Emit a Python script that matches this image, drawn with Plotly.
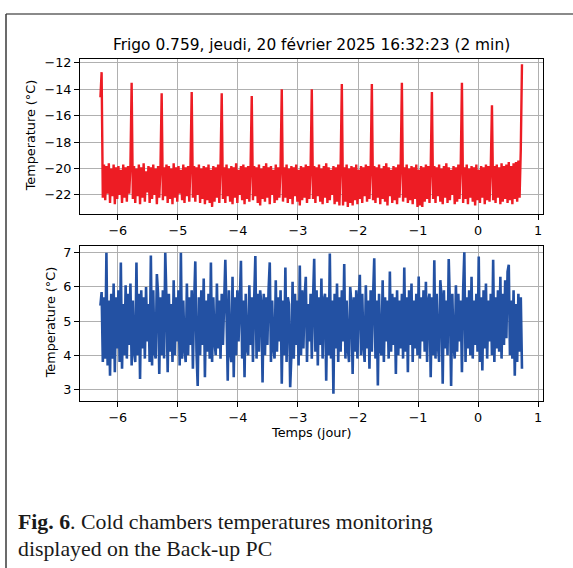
import numpy as np
import plotly.graph_objs as go

# sampling grid of the monitoring record (days relative to now)
T_START = -6.29
T_STEP = 0.02

# Frigo (freezer) temperature, deg C
frigo_temp = [
    -14.6, -12.7,
    -22.2, -19.7, -22.4, -19.8, -21.9, -19.6, -22.6, -20.0, -22.1, -19.7, -22.7, -19.9,
    -22.3, -19.8, -22.0, -20.1, -22.6, -19.7, -22.2, -19.9, -22.5, -19.8, -21.9, -19.7, -13.5,
    -22.3, -19.8, -22.6, -20.0, -22.1, -19.7, -22.7, -19.9, -22.2, -19.6, -22.5, -20.2,
    -21.8, -19.8, -22.6, -19.9, -22.3, -19.7, -22.0, -20.0, -22.7, -19.8, -22.2, -19.9, -14.3,
    -22.4, -19.9, -22.1, -19.7, -22.6, -19.8, -22.3, -20.0, -22.7, -19.6, -22.2, -19.9,
    -22.5, -19.8, -21.9, -20.1, -22.4, -19.7, -22.6, -19.9, -22.1, -19.8, -22.5, -19.7, -14.2,
    -22.2, -19.8, -22.5, -19.9, -22.0, -19.7, -22.6, -20.0, -22.3, -19.8, -22.7, -19.9,
    -22.4, -19.7, -22.6, -20.1, -22.9, -19.8, -22.5, -19.9, -22.2, -19.7, -22.6, -19.8, -14.3,
    -22.3, -19.9, -22.6, -19.7, -22.1, -20.0, -22.5, -19.8, -22.7, -19.9, -22.2, -19.6,
    -22.6, -20.1, -22.0, -19.8, -22.4, -19.7, -22.7, -19.9, -22.3, -19.8, -22.5, -20.0, -14.5,
    -22.4, -19.8, -22.1, -19.9, -22.6, -19.7, -22.8, -20.0, -22.3, -19.8, -22.5, -19.6,
    -22.2, -19.9, -22.7, -19.8, -22.0, -20.1, -22.6, -19.7, -22.4, -19.9, -22.2, -19.8, -14.0,
    -22.5, -19.9, -22.2, -19.7, -22.6, -20.0, -22.3, -19.8, -22.7, -19.9, -22.1, -19.7,
    -22.5, -20.1, -22.8, -19.8, -22.4, -19.9, -22.2, -19.7, -22.6, -19.8, -22.3, -20.0, -14.0,
    -22.3, -19.8, -22.6, -19.9, -22.1, -19.7, -22.5, -20.0, -22.7, -19.8, -22.2, -19.6,
    -22.6, -19.9, -22.4, -20.1, -22.0, -19.8, -22.7, -19.9, -22.5, -19.7, -22.8, -19.8, -13.6,
    -22.8, -19.9, -22.5, -19.7, -22.9, -20.0, -22.6, -19.8, -22.8, -19.9, -22.4, -19.7,
    -22.7, -20.1, -22.3, -19.8, -22.6, -19.9, -22.1, -19.7, -22.5, -19.8, -22.3, -20.0, -13.6,
    -22.4, -19.8, -22.6, -19.9, -22.2, -19.7, -22.7, -20.0, -22.3, -19.8, -22.5, -19.6,
    -22.8, -19.9, -22.1, -20.1, -22.6, -19.8, -22.4, -19.9, -22.7, -19.7, -22.2, -19.8, -13.5,
    -22.5, -19.9, -22.2, -19.7, -22.6, -20.0, -22.4, -19.8, -22.7, -19.9, -22.3, -19.7,
    -22.9, -20.1, -22.8, -19.8, -22.9, -19.9, -22.5, -19.7, -22.3, -19.8, -22.6, -20.0, -14.2,
    -22.3, -19.8, -22.6, -19.9, -22.1, -19.7, -22.5, -20.0, -22.7, -19.8, -22.2, -19.6,
    -22.6, -19.9, -22.4, -20.1, -22.0, -19.8, -22.7, -19.9, -22.5, -19.7, -22.3, -19.8, -13.5,
    -22.6, -19.9, -22.3, -19.7, -22.7, -20.0, -22.2, -19.8, -22.5, -19.9, -22.8, -19.7,
    -22.4, -20.1, -22.6, -19.8, -22.2, -19.9, -22.7, -19.7, -22.4, -19.8, -22.5, -20.0, -15.2,
    -22.4, -19.8, -22.6, -19.7, -22.2, -19.9, -22.7, -19.6, -22.5, -19.8, -22.3, -19.7,
    -22.6, -19.5, -22.4, -19.8, -22.7, -19.6, -22.3, -19.5, -22.5, -19.4, -22.2, -18.6, -12.1,
]

# cold chamber temperature, deg C
chambre_temp = [
    5.45, 5.85, 3.8, 5.7, 3.9, 7.0, 3.7, 5.6, 3.4, 5.8,
    3.9, 6.1, 3.5, 5.7, 4.2, 5.9, 3.8, 6.72, 3.6, 5.5,
    4.0, 6.05, 3.9, 5.8, 4.3, 6.1, 3.7, 5.6, 4.1, 3.8,
    6.72, 4.0, 5.8, 3.3, 5.9, 4.2, 5.7, 3.9, 6.0, 4.4,
    5.5, 3.8, 6.92, 3.7, 5.9, 4.1, 3.9, 6.38, 5.8, 3.45,
    5.7, 4.0, 5.9, 3.9, 7.0, 5.6, 3.5, 5.8, 4.1, 5.5,
    3.8, 6.2, 4.0, 5.7, 4.4, 5.9, 3.7, 7.0, 3.9, 5.6,
    4.2, 3.8, 6.1, 4.0, 5.7, 4.3, 5.9, 3.6, 5.5, 6.75,
    4.1, 3.1, 5.7, 4.0, 5.9, 4.3, 6.25, 3.35, 5.6, 4.1,
    5.8, 3.9, 6.72, 3.8, 5.7, 4.4, 4.0, 6.1, 4.2, 5.6,
    3.9, 5.8, 4.3, 5.5, 6.8, 5.2, 3.25, 5.9, 4.1, 3.8,
    6.3, 3.35, 5.7, 4.0, 5.9, 4.4, 5.5, 6.77, 3.9, 5.6,
    3.35, 5.8, 4.2, 4.0, 6.05, 4.3, 5.7, 3.8, 5.6, 6.91,
    3.9, 5.8, 4.1, 5.9, 5.5, 3.2, 5.8, 4.0, 5.7, 4.3,
    5.9, 6.72, 3.8, 5.6, 4.2, 3.9, 6.2, 4.1, 5.7, 4.4,
    5.9, 3.16, 5.6, 4.0, 6.57, 3.8, 5.7, 5.5, 3.06, 4.0,
    6.15, 3.9, 5.8, 4.3, 5.6, 3.7, 6.63, 4.0, 5.9, 4.2,
    5.7, 6.3, 3.8, 5.5, 4.4, 5.8, 3.9, 5.6, 6.83, 4.1,
    5.9, 3.7, 5.7, 4.3, 6.25, 3.9, 5.6, 5.8, 3.25, 5.7,
    4.0, 6.98, 3.9, 5.6, 2.87, 5.8, 4.2, 6.1, 3.8, 5.7,
    4.1, 5.9, 4.4, 6.67, 3.9, 5.6, 4.2, 3.8, 6.0, 5.5,
    3.45, 5.7, 4.1, 5.9, 3.9, 5.6, 6.36, 4.0, 5.8, 4.3,
    3.8, 6.05, 4.2, 5.6, 3.6, 5.9, 4.1, 5.7, 6.84, 3.9,
    5.6, 3.11, 5.8, 4.2, 4.0, 6.2, 3.8, 5.7, 4.4, 5.6,
    3.9, 6.45, 4.1, 5.8, 4.3, 5.7, 3.45, 5.9, 4.0, 5.6,
    4.2, 5.8, 3.9, 6.57, 4.1, 5.7, 3.5, 5.9, 4.3, 6.1,
    3.8, 5.6, 4.2, 5.8, 4.0, 6.31, 3.9, 5.7, 4.4, 5.9,
    4.1, 6.15, 3.8, 5.6, 5.8, 3.35, 5.7, 4.0, 6.78, 3.9,
    5.8, 4.3, 3.8, 6.2, 5.7, 3.16, 5.9, 4.2, 5.6, 4.0,
    6.82, 5.5, 3.1, 5.8, 4.3, 3.9, 6.05, 4.1, 5.8, 4.4,
    5.6, 3.5, 5.9, 7.02, 3.8, 5.7, 4.2, 5.9, 4.0, 6.3,
    3.9, 5.6, 4.3, 5.8, 4.1, 6.89, 3.8, 5.7, 3.55, 5.9,
    4.2, 6.1, 3.9, 5.6, 4.4, 5.8, 4.0, 6.8, 3.8, 5.7,
    4.2, 5.9, 4.1, 6.3, 3.9, 5.8, 4.3, 6.2, 4.5, 6.45,
    6.65, 4.0, 5.6, 3.9, 5.9, 3.4, 5.5, 3.8, 5.8, 4.1,
    5.7, 3.6,
]

x_ticks = [-6, -5, -4, -3, -2, -1, 0, 1]

title_text = "Frigo 0.759, jeudi, 20 février 2025 16:32:23 (2 min)"
ylabel_text = "Temperature (°C)"
xlabel_text = "Temps (jour)"
caption_1 = "<b>Fig. 6</b>. Cold chambers temperatures monitoring"
caption_2 = "displayed on the Back-up PC"

temps_frigo = np.round(T_START + T_STEP * np.arange(len(frigo_temp)), 3)
temps_chambre = np.round(T_START + T_STEP * np.arange(len(chambre_temp)), 3)

W, H = 573, 568


def px_x(p):
    return p / W


def px_y(p):
    return 1 - p / H


fig = go.Figure()
fig.add_trace(go.Scatter(x=temps_frigo, y=frigo_temp, mode="lines",
                         line=dict(color="#ED1C24", width=2.4, simplify=False),
                         xaxis="x", yaxis="y", showlegend=False))
fig.add_trace(go.Scatter(x=temps_chambre, y=chambre_temp, mode="lines",
                         line=dict(color="#2351A3", width=2.6, simplify=False),
                         xaxis="x2", yaxis="y2", showlegend=False))

axis_style = dict(showline=True, mirror=True, linecolor="black", linewidth=1,
                  ticks="outside", ticklen=5, tickwidth=1, tickcolor="black",
                  showgrid=True, gridcolor="#b0b0b0", gridwidth=1, zeroline=False,
                  tickfont=dict(family="DejaVu Sans", size=12.8, color="black"))

fig.update_layout(
    width=W, height=H,
    margin=dict(l=0, r=0, t=0, b=0),
    paper_bgcolor="white", plot_bgcolor="white",
    xaxis=dict(domain=[px_x(80), px_x(543)], range=[-6.63, 1.08], tickvals=x_ticks,
               anchor="y", **axis_style),
    yaxis=dict(domain=[px_y(212), px_y(56)], range=[-23.43, -11.68], dtick=2,
               anchor="x", **axis_style),
    xaxis2=dict(domain=[px_x(80), px_x(543)], range=[-6.63, 1.08], tickvals=x_ticks,
                anchor="y2", **axis_style),
    yaxis2=dict(domain=[px_y(400), px_y(244)], range=[2.66, 7.21], dtick=1,
                anchor="x2", **axis_style),
)

font_mpl = dict(family="DejaVu Sans", size=12.8, color="black")
font_cap = dict(family="Liberation Serif", size=21.8, color="#1a1a1a")

fig.add_annotation(text=title_text, x=px_x(311.5), y=px_y(42), xref="paper", yref="paper",
                   showarrow=False, xanchor="center", yanchor="middle",
                   font=dict(family="DejaVu Sans", size=15.4, color="black"))
fig.add_annotation(text=ylabel_text, x=px_x(30), y=px_y(134), xref="paper", yref="paper",
                   showarrow=False, textangle=-90, xanchor="center", yanchor="middle",
                   font=font_mpl)
fig.add_annotation(text=ylabel_text, x=px_x(50), y=px_y(322), xref="paper", yref="paper",
                   showarrow=False, textangle=-90, xanchor="center", yanchor="middle",
                   font=font_mpl)
fig.add_annotation(text=xlabel_text, x=px_x(311.5), y=px_y(432), xref="paper", yref="paper",
                   showarrow=False, xanchor="center", yanchor="middle", font=font_mpl)
fig.add_annotation(text=caption_1, x=px_x(16), y=px_y(522), xref="paper", yref="paper",
                   showarrow=False, xanchor="left", yanchor="middle", font=font_cap)
fig.add_annotation(text=caption_2, x=px_x(16), y=px_y(549), xref="paper", yref="paper",
                   showarrow=False, xanchor="left", yanchor="middle", font=font_cap)

# page frame around the figure
fig.add_shape(type="line", xref="paper", yref="paper", x0=px_x(6), x1=1, y0=px_y(11), y1=px_y(11),
              line=dict(color="#8a8a8a", width=2))
fig.add_shape(type="line", xref="paper", yref="paper", x0=px_x(6), x1=px_x(6), y0=px_y(11), y1=0,
              line=dict(color="#3a3a3a", width=1.5))

# drop the browser's default page margin so the figure sits at the window corner
fig.write_html("out.html", config={"displayModeBar": False},
               post_script="document.body.style.margin='0px';")
